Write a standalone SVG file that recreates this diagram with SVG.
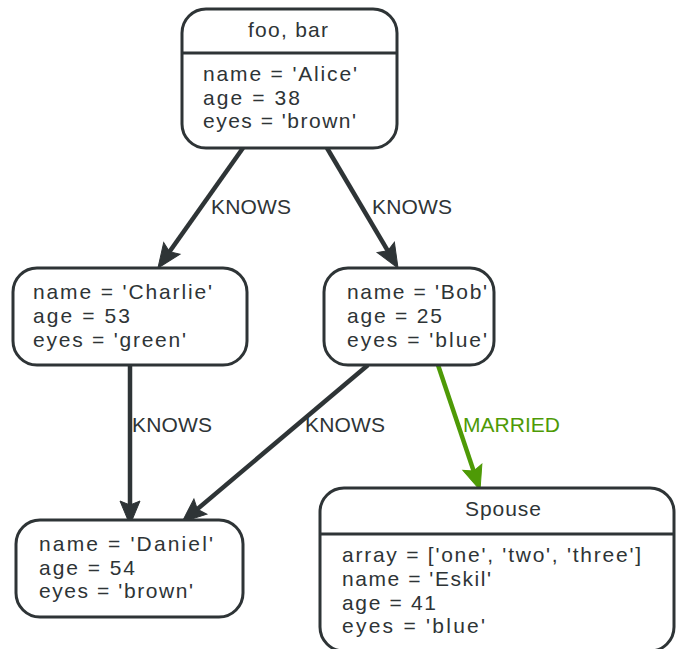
<svg xmlns="http://www.w3.org/2000/svg" width="676" height="649" viewBox="0 0 676 649">
<style>
.box{fill:#ffffff;stroke:#2e3436;stroke-width:3}
.div{stroke:#2e3436;stroke-width:3}
.t{font-family:"Liberation Sans",Arial,sans-serif;font-size:21px;fill:#2e3436}
.h{text-anchor:middle}
.e{fill:none;stroke:#2e3436;stroke-width:4.5}
.g{stroke:#4e9a06}
.lbl{font-family:"Liberation Sans",Arial,sans-serif;font-size:21px;fill:#2e3436}
.lg{fill:#4e9a06}
</style>
<defs>
<marker id="ah" markerUnits="userSpaceOnUse" orient="auto" refX="0" refY="0" markerWidth="40" markerHeight="40" overflow="visible">
<path d="M12,0 L-12,-10 L-8,0 L-12,10 Z" fill="#2e3436" stroke="#2e3436" stroke-width="1" stroke-linejoin="miter"/>
</marker>
<marker id="ahg" markerUnits="userSpaceOnUse" orient="auto" refX="0" refY="0" markerWidth="40" markerHeight="40" overflow="visible">
<path d="M12,0 L-12,-10 L-8,0 L-12,10 Z" fill="#4e9a06" stroke="#4e9a06" stroke-width="1" stroke-linejoin="miter"/>
</marker>
</defs>
<g id="edges">
<path class="e" d="M243,148 L164.9,258.2" marker-end="url(#ah)"/>
<path class="e" d="M327,148 L391.9,257.7" marker-end="url(#ah)"/>
<path class="e" d="M130,365 L130,513" marker-end="url(#ah)"/>
<path class="e" d="M368,365 L191.2,514.3" marker-end="url(#ah)"/>
<path class="e g" d="M438,365 L476.2,478.6" marker-end="url(#ahg)"/>
<text class="lbl" x="211" y="214" textLength="80">KNOWS</text>
<text class="lbl" x="372" y="214" textLength="80">KNOWS</text>
<text class="lbl" x="132" y="432" textLength="80">KNOWS</text>
<text class="lbl" x="305" y="432" textLength="80">KNOWS</text>
<text class="lbl lg" x="463" y="432" textLength="97">MARRIED</text>
</g>
<g id="alice">
<rect class="box" x="182" y="9" width="215" height="139" rx="24" ry="24"/>
<line class="div" x1="182" y1="53" x2="397" y2="53"/>
<text class="t h" x="288" y="37" textLength="80">foo, bar</text>
<text class="t" x="203" y="81" textLength="154">name = 'Alice'</text>
<text class="t" x="203" y="105" textLength="97">age = 38</text>
<text class="t" x="203" y="128" textLength="153">eyes = 'brown'</text>
</g>
<g id="charlie">
<rect class="box" x="13" y="268" width="234" height="97" rx="24" ry="24"/>
<text class="t" x="33" y="299" textLength="179">name = 'Charlie'</text>
<text class="t" x="33" y="323" textLength="97">age = 53</text>
<text class="t" x="33" y="347" textLength="153">eyes = 'green'</text>
</g>
<g id="bob">
<rect class="box" x="324" y="268" width="170" height="97" rx="24" ry="24"/>
<text class="t" x="347" y="299" textLength="140">name = 'Bob'</text>
<text class="t" x="347" y="323" textLength="95">age = 25</text>
<text class="t" x="347" y="347" textLength="140">eyes = 'blue'</text>
</g>
<g id="daniel">
<rect class="box" x="16" y="520" width="227" height="97" rx="24" ry="24"/>
<text class="t" x="39" y="551" textLength="174">name = 'Daniel'</text>
<text class="t" x="39" y="575" textLength="96">age = 54</text>
<text class="t" x="39" y="598" textLength="154">eyes = 'brown'</text>
</g>
<g id="spouse">
<rect class="box" x="320" y="488" width="354" height="163" rx="24" ry="24"/>
<line class="div" x1="320" y1="534" x2="674" y2="534"/>
<text class="t h" x="503" y="516" textLength="76">Spouse</text>
<text class="t" x="342" y="562" textLength="299">array = ['one', 'two', 'three']</text>
<text class="t" x="342" y="586" textLength="149">name = 'Eskil'</text>
<text class="t" x="342" y="610" textLength="94">age = 41</text>
<text class="t" x="342" y="633" textLength="143">eyes = 'blue'</text>
</g>
</svg>
